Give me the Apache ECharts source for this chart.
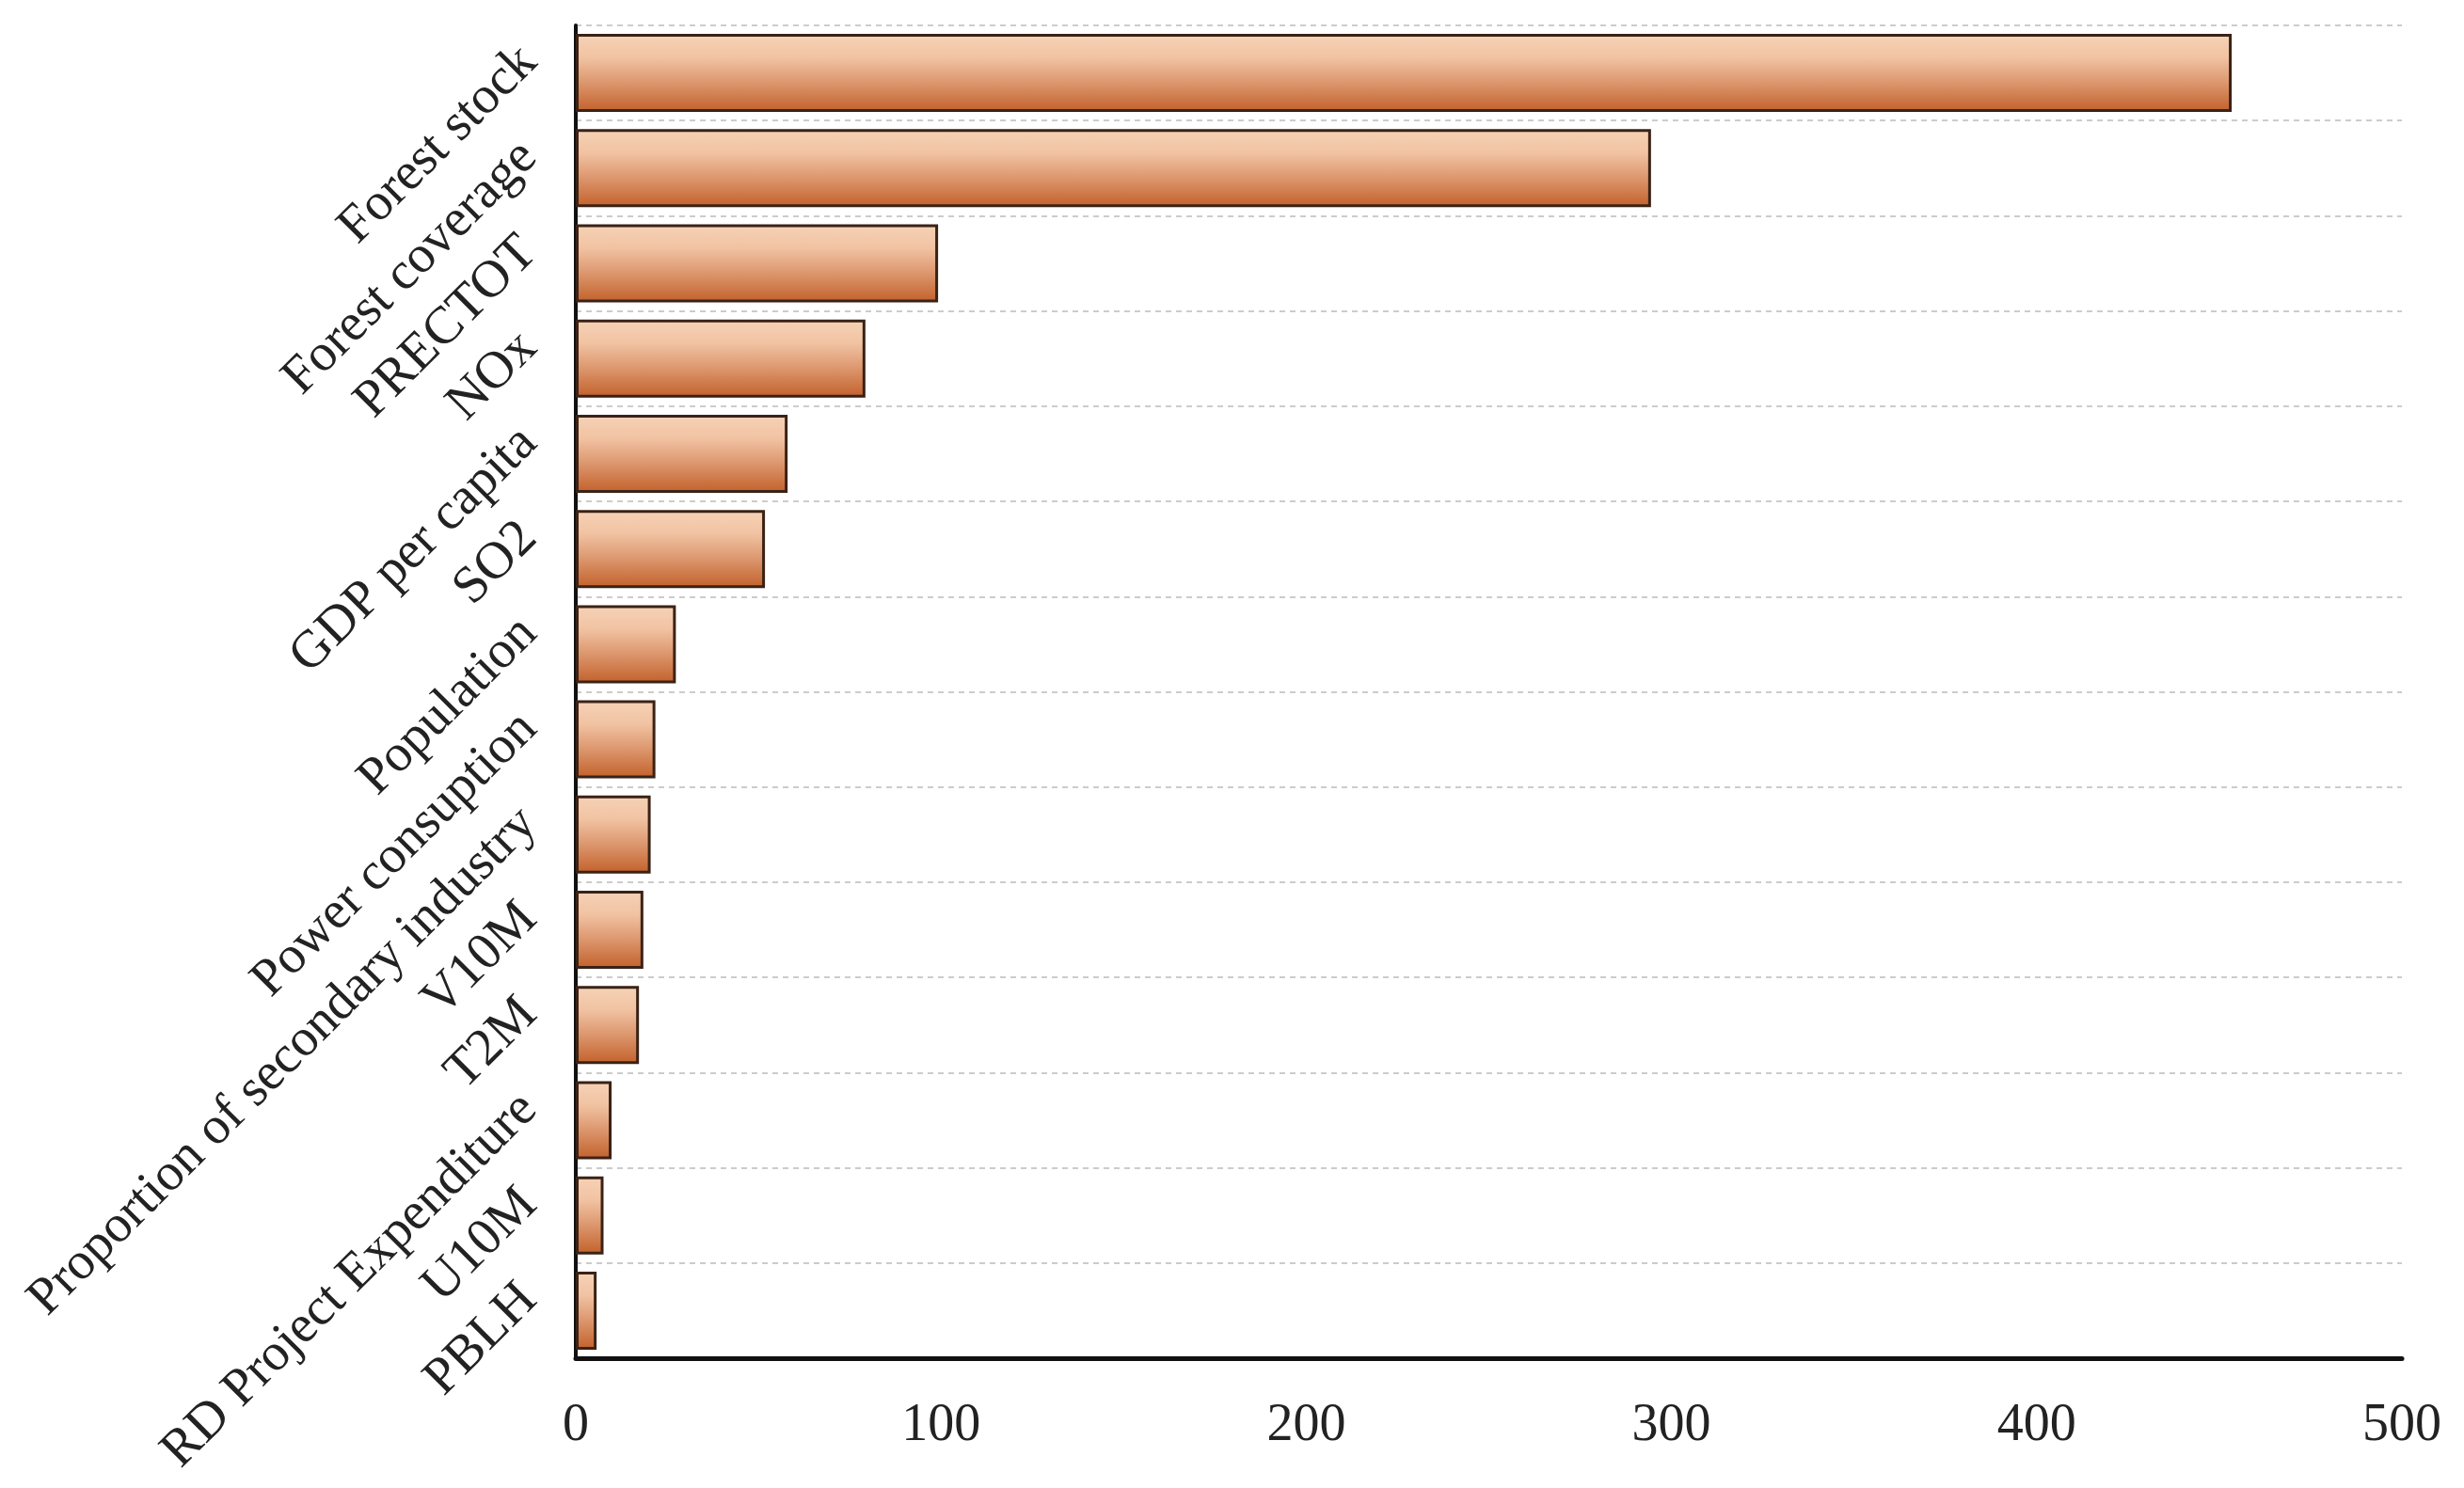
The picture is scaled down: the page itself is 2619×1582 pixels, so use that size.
<!DOCTYPE html>
<html>
<head>
<meta charset="utf-8">
<script src="https://cdn.jsdelivr.net/npm/echarts@6/dist/echarts.min.js"></script>
<style>
  html, body { margin: 0; padding: 0; background: #ffffff; }
  #chart { width: 2619px; height: 1582px; }
</style>
</head>
<body>
<div id="chart"></div>
<script>
const categories = [
  "Forest stock",
  "Forest coverage",
  "PRECTOT",
  "NOx",
  "GDP per capita",
  "SO2",
  "Population",
  "Power consuption",
  "Proportion of secondary industry",
  "V10M",
  "T2M",
  "RD Project Expenditure",
  "U10M",
  "PBLH"
];
const importance = [453.4, 294.4, 99.2, 79.3, 58.0, 51.8, 27.4, 21.8, 20.5, 18.5, 17.3, 9.8, 7.6, 5.7];
const xTicks = [0, 100, 200, 300, 400, 500];

const FONT = "'Liberation Serif', 'Times New Roman', serif";

const chart = echarts.init(document.getElementById('chart'), null, { renderer: 'canvas' });
chart.setOption({
  backgroundColor: '#ffffff',
  animation: false,
  grid: { left: 612, right: 66, top: 27, bottom: 138, containLabel: false },
  xAxis: {
    type: 'value',
    min: xTicks[0],
    max: xTicks[xTicks.length - 1],
    interval: 100,
    axisLine: { show: true, lineStyle: { color: '#111111', width: 5 } },
    axisTick: { show: false },
    splitLine: { show: false },
    axisLabel: {
      margin: 44,
      fontFamily: FONT,
      fontSize: 56,
      color: '#222222'
    }
  },
  yAxis: {
    type: 'category',
    data: categories,
    inverse: true,
    axisLine: { show: true, onZero: false, lineStyle: { color: '#111111', width: 4 } },
    axisTick: { show: false },
    splitLine: {
      show: true,
      interval: 0,
      lineStyle: { color: '#cccccc', width: 2, type: [6, 5] }
    },
    axisLabel: {
      interval: 0,
      rotate: 45,
      margin: 30,
      verticalAlign: 'bottom',
      fontFamily: FONT,
      fontSize: 56,
      color: '#222222'
    }
  },
  series: [{
    type: 'bar',
    data: importance,
    barCategoryGap: '18%',
    itemStyle: {
      borderColor: '#3a2216',
      borderWidth: 3,
      color: new echarts.graphic.LinearGradient(0, 0, 0, 1, [
        { offset: 0, color: '#f6d2b6' },
        { offset: 0.3, color: '#f1c3a3' },
        { offset: 0.6, color: '#de9a72' },
        { offset: 1, color: '#c2602a' }
      ])
    }
  }]
});
</script>
</body>
</html>
